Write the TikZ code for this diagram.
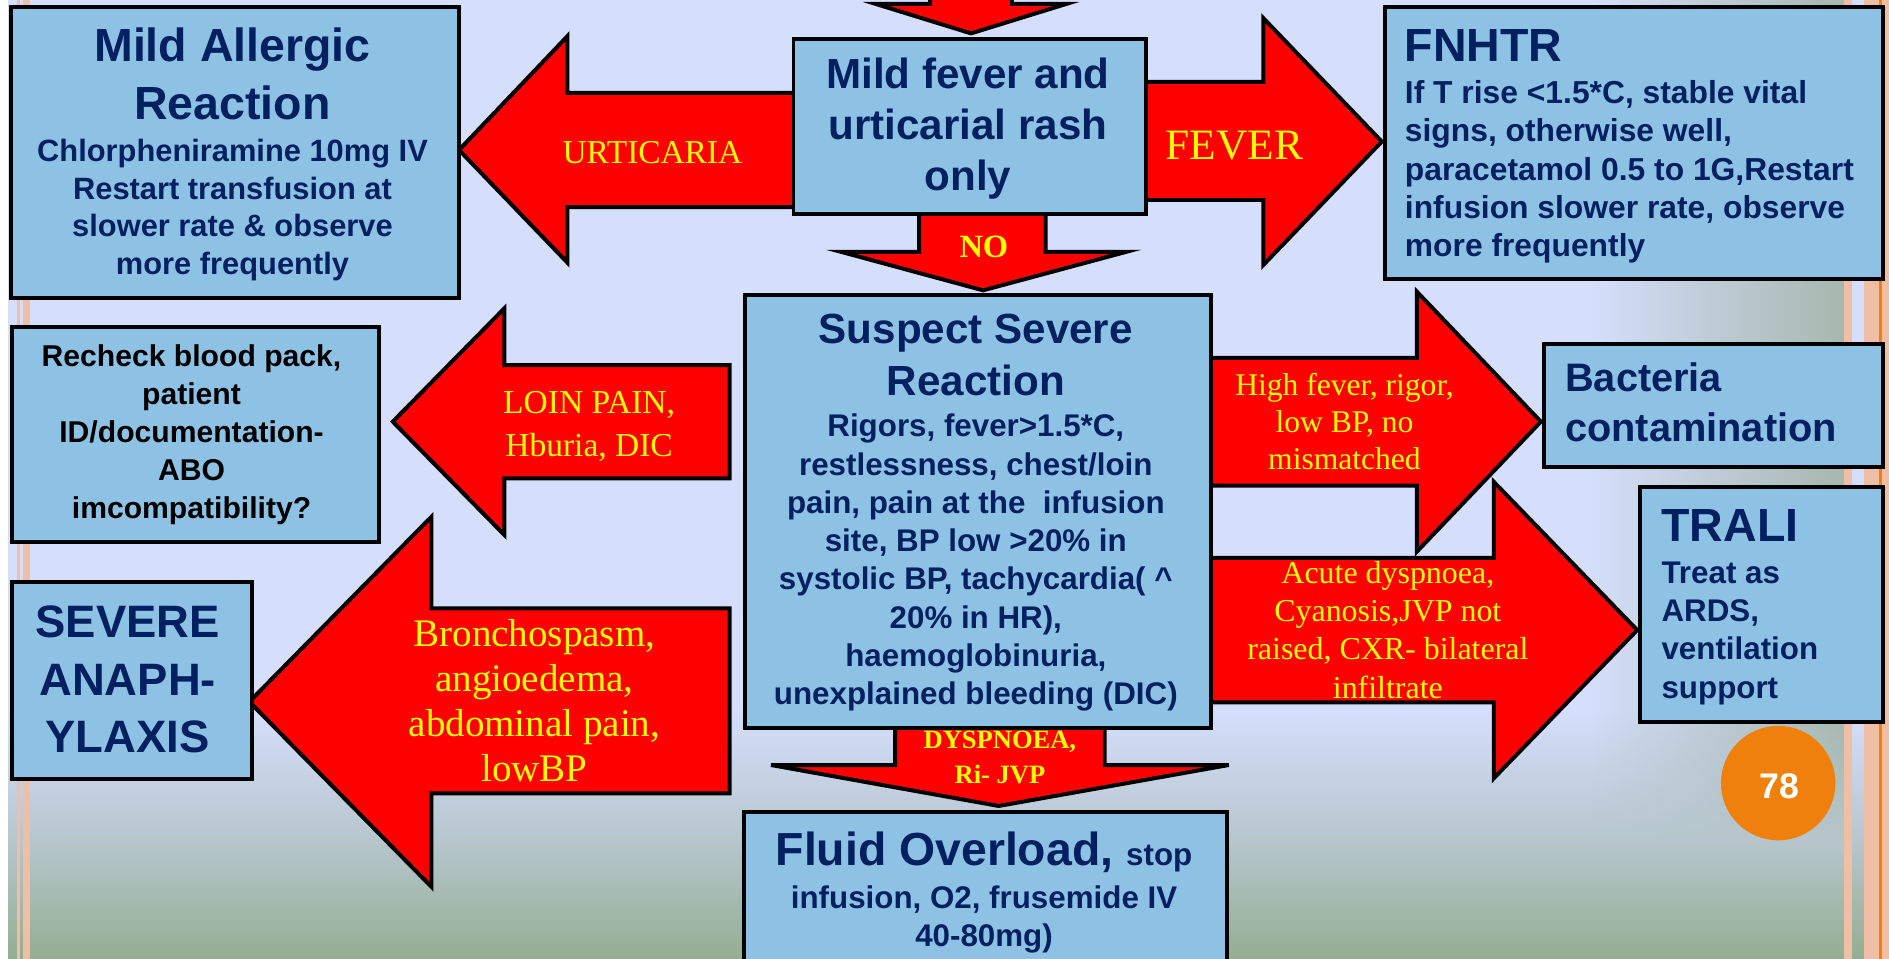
\documentclass[tikz,border=0pt]{standalone}
\usepackage{fontspec}
\setmainfont{Liberation Sans}
\newfontfamily\labfont{Liberation Serif}
\usetikzlibrary{fadings}
\definecolor{boxblue}{HTML}{8DC2E5}
\definecolor{navy}{HTML}{002060}
\definecolor{bgtop}{HTML}{D5DFFC}
\definecolor{bgmid}{HTML}{B6C6CC}
\definecolor{bgbot}{HTML}{94AE92}
\definecolor{bgside}{HTML}{A6B8AE}
\definecolor{stripe}{HTML}{F0BEA5}
\definecolor{orangec}{HTML}{F0800C}
\definecolor{labyellow}{HTML}{FFFF00}
\tikzfading[name=fadedown, top color=transparent!100, bottom color=transparent!0]
\tikzfading[name=faderight, left color=transparent!100, right color=transparent!0]
\newcommand\TL[2]{\begin{tabular}[t]{@{}#1@{}}#2\end{tabular}}
\newcommand\fs[2]{\fontsize{#1}{#2}\selectfont}
\tikzset{
  box/.style={draw=black, line width=3.3pt, fill=boxblue, line join=miter, inner sep=0pt, anchor=north west},
  blk/.style={draw=black, line width=3.3pt, fill=red, line join=miter},
  txt/.style={inner sep=0pt, anchor=base, text=navy},
  txtl/.style={inner sep=0pt, anchor=base west, text=navy},
  lab/.style={inner sep=0pt, anchor=base, text=labyellow},
}
\begin{document}
\begin{tikzpicture}[x=1pt,y=-1pt]
\useasboundingbox (0,0) rectangle (1568,796);
% background
\fill[bgtop] (0,0) rectangle (1568,796);
\fill[bgside, path fading=faderight] (1320,0) rectangle (1531,796);
\fill[bgmid, path fading=fadedown] (0,590) rectangle (1568,700);
\fill[bgmid] (0,699.5) rectangle (1568,796);
\fill[bgbot, path fading=fadedown] (0,699) rectangle (1568,796);
\fill[white] (0,0) rectangle (6.6,796);
\fill[stripe] (14.4,0) rectangle (16.6,796);
\fill[stripe] (18.8,0) rectangle (25,796);
\fill[stripe] (1531,0) rectangle (1537.5,796);
\fill[stripe] (1547.5,0) rectangle (1568,796);
\fill[orangec] (1560,0) rectangle (1562,796);

% block arrows
\draw[blk] (772,-10) -- (772,3.3) -- (727,3.3) -- (806,27.7) -- (885,3.3) -- (840,3.3) -- (840,-10) -- cycle;
\draw[blk] (381,124.5) -- (471,30) -- (471,77) -- (670,77) -- (670,172) -- (471,172) -- (471,218) -- cycle;
\draw[blk] (763,165) -- (763,209) -- (698,209) -- (816,241) -- (935,209) -- (868,209) -- (868,165) -- cycle;
\draw[blk] (940,68) -- (1048.6,68) -- (1048.6,15) -- (1147,117.5) -- (1048.6,220) -- (1048.6,166) -- (940,166) -- cycle;
\draw[blk] (326,350) -- (418.6,256) -- (418.6,303) -- (605.6,303) -- (605.6,397) -- (418.6,397) -- (418.6,444) -- cycle;
\draw[blk] (207,582.5) -- (358,429) -- (358,505) -- (605.6,505) -- (605.6,658.6) -- (358,658.6) -- (358,736) -- cycle;
\draw[blk] (995,297) -- (1176,297) -- (1176,242) -- (1279,350) -- (1176,458) -- (1176,403) -- (995,403) -- cycle;
\draw[blk] (995,463) -- (1240,463) -- (1240,400) -- (1359,523) -- (1240,646) -- (1240,583) -- (995,583) -- cycle;
\draw[blk] (743,595) -- (743,635) -- (640,635) -- (829,669) -- (1020,635) -- (917,635) -- (917,595) -- cycle;

% boxes
\node[box, minimum width=371.6, minimum height=242] (mildallergic) at (7.4,4) {};
\node[box, minimum width=293, minimum height=145] (mildfever) at (657,31) {};
\node[box, minimum width=413, minimum height=226] (fnhtr) at (1148,4) {};
\node[box, minimum width=305, minimum height=178] (recheck) at (8,270) {};
\node[box, minimum width=386.6, minimum height=359.5] (suspect) at (617,243.5) {};
\node[box, minimum width=199.2, minimum height=163.4] (severe) at (8,481.6) {};
\node[box, minimum width=281, minimum height=102.4] (bacteria) at (1280,283.6) {};
\node[box, minimum width=201, minimum height=195] (trali) at (1360,402.6) {};
\node[box, minimum width=400.5, minimum height=140] (fluid) at (616,672.4) {};
\node[circle, fill=orangec, minimum size=95, inner sep=0pt] (page) at (1476,650) {};

% box texts
\node[txt, font=\bfseries\fs{38.6}{48.6}] (t-ma) at (193,51) {\TL{c}{Mild Allergic\\Reaction}};
\node[txt, font=\bfseries\fs{25.6}{31.3}] (b-ma) at (193,134) {\TL{c}{Chlorpheniramine 10mg IV\\Restart transfusion at\\slower rate \& observe\\more frequently}};
\node[txt, font=\bfseries\fs{35}{42.3}] (t-mf) at (803.5,73.4) {\TL{c}{Mild fever and\\urticarial rash\\only}};
\node[txtl, font=\bfseries\fs{38.6}{46}] (t-fn) at (1166,51) {FNHTR};
\node[txtl, font=\bfseries\fs{26.4}{31.75}] (b-fn) at (1166,86) {\TL{l}{If T rise <1.5*C, stable vital\\signs, otherwise well,\\paracetamol 0.5 to 1G,Restart\\infusion slower rate, observe\\more frequently}};
\node[txt, text=black, font=\bfseries\fs{25}{31.4}] (t-rc) at (159,304.5) {\TL{c}{Recheck blood pack,\\patient\\ID/documentation-\\ABO\\imcompatibility?}};
\node[txt, font=\bfseries\fs{35}{43.2}] (t-ss) at (810,284.8) {\TL{c}{Suspect Severe\\Reaction}};
\node[txt, font=\bfseries\fs{26}{31.8}] (b-ss) at (810,362.5) {\TL{c}{Rigors, fever>1.5*C,\\restlessness, chest/loin\\pain, pain at the\ \ infusion\\site, BP low >20\% in\\systolic BP, tachycardia( \^{}\\20\% in HR),\\haemoglobinuria,\\unexplained bleeding (DIC)}};
\node[txt, font=\bfseries\fs{37.7}{48}] (t-sv) at (106,529) {\TL{c}{SEVERE\\ANAPH-\\YLAXIS}};
\node[txtl, font=\bfseries\fs{33}{41.6}] (t-bc) at (1299,325) {\TL{l}{Bacteria\\contamination}};
\node[txtl, font=\bfseries\fs{38.6}{46}] (t-tr) at (1379,449.6) {TRALI};
\node[txtl, font=\bfseries\fs{26}{31.9}] (b-tr) at (1379,484) {\TL{l}{Treat as\\ARDS,\\ventilation\\support}};
\node[txt, font=\bfseries\fs{38.5}{46}] (t-fo) at (816.8,718) {Fluid Overload, {\fs{26}{31}stop}};
\node[txt, font=\bfseries\fs{26}{32}] (b-fo) at (816.8,754) {\TL{c}{infusion, O2, frusemide IV\\40-80mg)}};
\node[txt, text=white, font=\bfseries\fs{29.6}{35}] (n-pg) at (1476.7,663) {78};

% arrow labels
\node[lab, font=\labfont\fs{27.7}{33}] (l-urt) at (541.5,135.6) {URTICARIA};
\node[lab, font=\labfont\fs{36}{42}] (l-fev) at (1024.5,132) {FEVER};
\node[lab, font=\labfont\bfseries\fs{27}{32}] (l-no) at (816.7,213.6) {NO};
\node[lab, font=\labfont\fs{27.8}{36}] (l-loin) at (489,343) {\TL{c}{LOIN PAIN,\\Hburia, DIC}};
\node[lab, font=\labfont\fs{26.2}{31}] (l-hf) at (1116,328) {\TL{c}{High fever, rigor,\\low BP, no\\mismatched}};
\node[lab, font=\labfont\fs{26.5}{31.9}] (l-ac) at (1152,484) {\TL{c}{Acute dyspnoea,\\Cyanosis,JVP not\\raised, CXR- bilateral\\infiltrate}};
\node[lab, font=\labfont\fs{32.4}{37.3}] (l-br) at (443.6,537) {\TL{c}{Bronchospasm,\\angioedema,\\abdominal pain,\\lowBP}};
\node[lab, font=\labfont\bfseries\fs{22}{29}] (l-dy) at (830,621) {\TL{c}{DYSPNOEA,\\Ri- JVP}};
\end{tikzpicture}
\end{document}
